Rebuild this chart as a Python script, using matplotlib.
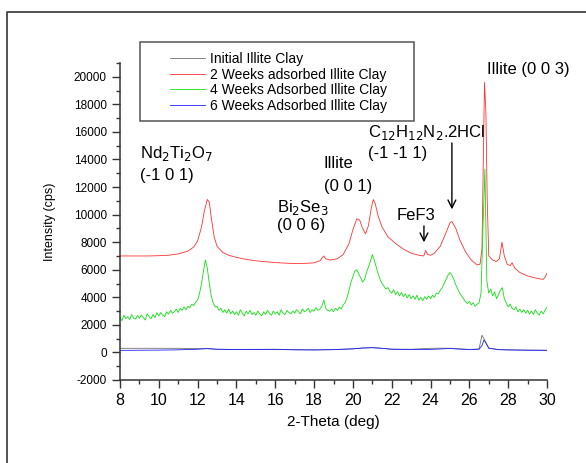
import numpy as np
import matplotlib
matplotlib.use("Agg")
import matplotlib.pyplot as plt
from matplotlib.patches import Rectangle
from matplotlib.lines import Line2D

plt.rcParams['font.family'] = ['Liberation Sans', 'DejaVu Sans']
plt.rcParams['axes.unicode_minus'] = False

# --- data ---
labels = ["Initial Illite Clay", "2 Weeks adsorbed Illite Clay",
          "4 Weeks Adsorbed Illite Clay", "6 Weeks Adsorbed Illite Clay"]

# 2 weeks (red)
red_x = [8.0, 8.5, 9.0, 9.5, 10.0, 10.5, 11.0, 11.5, 11.8, 12.0, 12.2, 12.35, 12.5,
         12.6, 12.7, 12.85, 13.0, 13.3, 13.6, 14.0, 14.5, 15.0, 15.5, 16.0, 16.5,
         17.0, 17.5, 18.0, 18.3, 18.5, 18.6, 18.8, 19.2, 19.5, 19.8, 20.0, 20.2,
         20.35, 20.5, 20.65, 20.8, 20.95, 21.05, 21.15, 21.3, 21.5, 21.8, 22.2,
         22.6, 23.0, 23.4, 23.65, 23.75, 23.85, 24.0, 24.2, 24.5, 24.8, 25.0,
         25.1, 25.3, 25.5, 25.8, 26.1, 26.4, 26.55, 26.65, 26.72, 26.78, 26.85,
         26.92, 27.0, 27.2, 27.4, 27.55, 27.68, 27.8, 27.95, 28.1, 28.2, 28.35,
         28.6, 29.0, 29.4, 29.8, 29.9, 30.0]
red_y = [7000, 7000, 7000, 7000, 7020, 7050, 7150, 7350, 7650, 8100, 9100, 10300, 11100,
         10900, 9800, 8400, 7700, 7250, 7050, 6900, 6750, 6650, 6580, 6520, 6480,
         6450, 6460, 6500, 6650, 7000, 6800, 6700, 6800, 7100, 7900, 8900, 9700,
         9600, 9000, 8600, 9200, 10500, 11100, 10800, 9900, 9100, 8400, 7900,
         7500, 7200, 7050, 7000, 7400, 7100, 7050, 7200, 7700, 8700, 9400,
         9500, 9000, 8200, 7300, 6700, 6350, 6400, 7500, 14000, 19600, 17500,
         11000, 7000, 6700, 6600, 6800, 8000, 7000, 6400, 6300, 6500, 6100,
         5800, 5550, 5400, 5300, 5450, 5750]

# 4 weeks (green), sampled every 0.1 deg
green_x = [round(8.0 + 0.1 * i, 1) for i in range(221)]
green_y = [2550, 2300, 2700, 2450, 2600, 2380, 2750, 2500, 2420, 2680,
           2480, 2720, 2550, 2350, 2800, 2600, 2450, 2750, 2520, 2880,
           2650, 2900, 2700, 2600, 2950, 2780, 3050, 2850, 2950, 3150,
           2900, 3200, 3050, 3300, 3100, 3350, 3250, 3500, 3400, 3650,
           3800, 4300, 5000, 5900, 6700, 6100, 5000, 4100, 3600, 3300,
           3350, 3050, 3200, 2900, 3100, 2850, 3150, 2800, 3000, 2750,
           2950, 2700, 3100, 2850, 2650, 3000, 2800, 3050, 2750, 2900,
           2700, 3000, 2800, 2650, 2950, 2750, 3050, 2850, 2700, 3000,
           2800, 2950, 2700, 3100, 2850, 2750, 3050, 2900, 2800, 3000,
           2850, 3100, 2950, 2800, 3150, 2950, 3050, 3200, 2900, 3100,
           3000, 3250, 3050, 3150, 3350, 3800, 3200, 3050, 3000, 3150,
           2950, 3200, 3050, 3300, 3150, 3450, 3600, 4000, 4500, 5100,
           5500, 5900, 6000, 5700, 5400, 5100, 5300, 5800, 6200, 6600,
           7100, 6700, 6200, 5700, 5300, 5000, 4800, 4600, 4700, 4450,
           4300, 4550, 4200, 4400, 4100, 4350, 4050, 4250, 3950, 4200,
           3900, 4100, 3850, 4150, 3800, 4000, 3750, 4050, 3850, 4100,
           3900, 4150, 4000, 4300, 4250, 4500, 4700, 5000, 5300, 5600,
           5800, 5600, 5300, 4900, 4600, 4300, 4100, 3900, 3700, 3550,
           3700, 3450, 3600, 3350, 3500, 3600, 4300, 9000, 13300, 5200,
           4300, 4600, 4100, 4400, 3900, 4200, 4500, 4700, 3900, 3600,
           3300, 3500, 3200, 3100, 3300, 2950, 3150, 2900, 3100, 2850,
           3050, 2800, 3000, 2750, 3100, 2850, 2700, 3000, 2800, 3050,
           3300]

# initial and 6 weeks
base_x = [8, 9, 10, 11, 12, 12.5, 13, 14, 16, 17, 18, 19, 20, 20.5, 21, 21.5, 22,
          23, 24, 24.5, 25, 25.5, 26, 26.5, 26.65, 26.75, 26.85, 27, 27.5, 28, 29, 30]
init_y = [300, 300, 300, 300, 280, 270, 230, 220, 230, 200, 190, 210, 260, 320, 340,
          300, 240, 230, 300, 310, 300, 260, 220, 250, 1250, 1000, 700, 320, 210,
          190, 170, 160]
blue_y = [150, 160, 170, 190, 230, 280, 230, 210, 220, 190, 180, 200, 260, 320, 350,
          300, 230, 210, 220, 250, 290, 240, 210, 230, 500, 900, 700, 300, 200,
          180, 160, 150]

# annotations (text, x, y)
notes = [("Nd$_2$Ti$_2$O$_7$", 9.03, 14090), ("(-1 0 1)", 9.03, 12500),
         ("Illite", 18.5, 13390), ("(0 0 1)", 18.5, 11700),
         ("Bi$_2$Se$_3$", 16.09, 10200), ("(0 0 6)", 16.09, 8870),
         ("C$_{12}$H$_{12}$N$_2$.2HCl", 20.78, 15640), ("(-1 -1 1)", 20.78, 14090),
         ("FeF3", 22.25, 9600), ("Illite (0 0 3)", 26.89, 20230)]
arrows = [(25.1, 15400, 10180), (23.66, 9380, 7790)]

fig = plt.figure(figsize=(5.86, 4.63), dpi=100)
W, H = 586.0, 463.0
ax = fig.add_axes([120 / W, 1 - 380 / H, 427 / W, 317 / H])

l0, = ax.plot(base_x, init_y, color='#707070', lw=0.6)
l1, = ax.plot(red_x, red_y, color='#ff3030', lw=0.6)
l2, = ax.plot(green_x, green_y, color='#10e010', lw=0.6)
l3, = ax.plot(base_x, blue_y, color='#2020ff', lw=0.6)

ax.set_xlim(8, 30)
ax.set_ylim(-2000, 21000)
ax.set_xticks(np.arange(8, 31, 2))
ax.set_xticks(np.arange(9, 30, 2), minor=True)
ax.set_yticks(np.arange(-2000, 20001, 2000))
ax.set_yticks(np.arange(-1000, 21001, 2000), minor=True)
for s in ['top', 'right']:
    ax.spines[s].set_visible(False)
for s in ['left', 'bottom']:
    ax.spines[s].set_color('#333333')
    ax.spines[s].set_linewidth(1.1)
ax.tick_params(axis='x', which='major', labelsize=11.5, length=6, width=1, color='#333333')
ax.tick_params(axis='y', which='major', labelsize=8.5, length=6, width=1, color='#333333')
ax.tick_params(which='minor', length=3, width=1, color='#333333')
ax.set_xlabel("2-Theta (deg)", fontsize=11, labelpad=5)
ax.set_ylabel("Intensity (cps)", fontsize=9, labelpad=13)

for t, x, y in notes:
    ax.text(x, y, t, fontsize=12, va='baseline', ha='left', clip_on=False)
for x, y0, y1 in arrows:
    ax.annotate("", xy=(x, y1), xytext=(x, y0),
                arrowprops=dict(arrowstyle='->', color='black', lw=1, mutation_scale=14))

# legend box and entries
fig.patches.append(Rectangle((140 / W, 1 - 121 / H), 274 / W, 79 / H,
                             transform=fig.transFigure, fill=False,
                             edgecolor='#555555', lw=1.1))
fig.legend([l0, l1, l2, l3], labels, loc='upper left',
           bbox_to_anchor=(163 / W, 1 - 45 / H), frameon=False, fontsize=10,
           borderpad=0, labelspacing=0.12, handlelength=2.5, handletextpad=0.4)

# outer frame of the picture
fig.lines.append(Line2D([7 / W, 7 / W, 1.0], [0.0, 1 - 12 / H, 1 - 12 / H],
                        transform=fig.transFigure, color='#444444', lw=1.3))

fig.savefig("out.png", dpi=100)
